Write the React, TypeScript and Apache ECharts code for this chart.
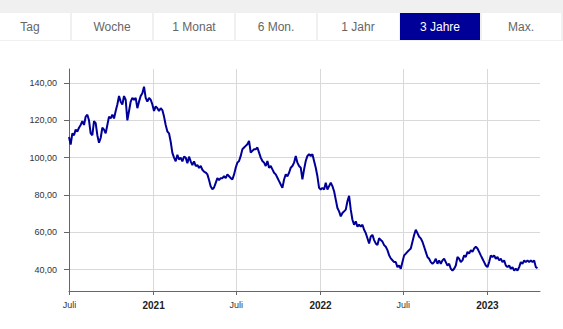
import React, { useEffect, useRef } from "react";
import * as echarts from "echarts";

// ---- data ----
const tabLabels = ["Tag", "Woche", "1 Monat", "6 Mon.", "1 Jahr", "3 Jahre", "Max."];
const activeTab = "3 Jahre";

const yTickValues = [40, 60, 80, 100, 120, 140];
const xTickDates = ["2020-07-01", "2021-01-01", "2021-07-01", "2022-01-01", "2022-07-01", "2023-01-01"];

const axisStartDate = "2020-06-30";
const axisEndDate = "2023-04-26";
const firstSampleDate = "2020-06-30";
const sampleStepDays = 3.646;

// price samples (EUR)
const pricesA = [
  111, 107, 113, 112, 115, 114, 116, 117.5, 119.5, 117.5, 122, 123, 120, 113, 112, 119.5, 118.5, 112, 108, 110.5,
  116, 115, 113, 117.5, 122, 121, 123, 121, 125, 128.5, 133, 130, 128.5, 133, 131, 120, 125, 130, 132, 131,
  132, 126.5, 130, 133, 134.5, 138, 132, 130, 132, 131, 128.5, 125, 127.5, 126.5, 125, 126.5, 125.5, 122, 117.5, 114,
  113, 108.5, 102.5, 100, 98, 101.5, 99, 100, 98, 100.5, 100, 97, 100.5, 98, 96, 98, 95.5, 96, 94.5, 95.5,
  93.5, 92.5, 92, 91, 88, 84.5, 83, 84, 86.5, 89, 88, 89, 89, 90, 89, 91, 90, 89,
];
const pricesB = [
  88.3, 91, 94.6, 97.3, 98.2, 100.9, 104.5, 105.4, 106.3, 107.2, 109, 102.7, 103.6, 104.5, 104.5, 105.4, 102.7, 100, 98.2, 97.3,
  95.5, 98.2, 94.6, 95.5, 93.7, 91.9, 91, 89.2, 87.4, 85.6, 83.8, 88.3, 91, 90, 91.9, 94.6, 95.5, 97.3, 100.9, 97.3,
  95.5, 94.6, 88.3, 93.7, 98.2, 100.9, 101.8, 100.9, 101.8, 98.2, 94.6, 90, 83.8, 82.9, 83.8, 82.9, 86.5, 82.9, 84.7, 86.5,
  84.7, 82, 77.5, 73, 71.2, 68.5, 70.3, 71.2, 72.1, 76.6, 79.5, 72.1, 66.7, 64, 65.8, 63, 64, 63, 64, 61.3,
  59.5, 56.8, 54, 57.7, 58.6, 55.8, 54, 53.1, 56.8, 55.8, 55, 53.1, 52.2, 50.4, 47.7, 46, 45, 44,
];
const pricesC = [
  44, 41.3, 42.2, 40.4, 44, 47.6, 48.5, 49.5, 50.4, 51.3, 54.9, 58.5, 61.3, 59.5, 57.6, 56.7, 54.9, 52.2, 49.5, 46.7,
  45.8, 44, 43.1, 44, 45.8, 43.1, 44.9, 43.1, 44.9, 45.8, 44, 42.2, 43.1, 40.4, 39.5, 40.4, 42.2, 46.7, 45.8, 44,
  44.9, 47.6, 46.7, 49.5, 48.5, 50.4, 49.5, 51.3, 52.2, 51.3, 49.5, 47.6, 45.8, 44, 42.2, 41.3, 44, 47.6, 46.7, 47.6,
  45.8, 46.7, 44.9, 45.8, 44, 44.9, 42.2, 41.3, 42.2, 40.4, 41.3, 39.5, 40.4, 39.5, 41.3, 44, 43.1, 44.9, 44, 44.9,
  44, 44.9, 44, 44.9, 41.3, 40.7,
];

// ---- helpers ----
function parseLocal(s: string): number {
  const [y, m, d] = s.split("-").map(Number);
  return new Date(y, m - 1, d).getTime();
}

const DAY = 86400000;

export default function App() {
  const ref = useRef<HTMLDivElement>(null);

  useEffect(() => {
    if (!ref.current) return;
    const chart = echarts.init(ref.current, undefined, { renderer: "svg" });

    const prices = [...pricesA, ...pricesB, ...pricesC];
    const t0 = parseLocal(firstSampleDate);
    const data = prices.map((v, i) => [t0 + i * sampleStepDays * DAY, v]);
    const xTicks = xTickDates.map(parseLocal);

    const tabX = [0, 72, 154, 236, 318, 400, 482];
    const tabW = [70, 80, 80, 80, 81, 80, 79];
    const tabTextX = [30, 112, 194, 276, 358, 440, 521];

    const graphic: any[] = [
      { type: "rect", shape: { x: 0, y: 0, width: 563, height: 41 }, style: { fill: "#f0f0f0" }, silent: true },
    ];
    tabLabels.forEach((lab, i) => {
      const active = lab === activeTab;
      graphic.push({
        type: "rect",
        shape: { x: tabX[i], y: 13, width: tabW[i], height: 27 },
        style: { fill: active ? "#000099" : "#ffffff" },
        silent: true,
      });
      graphic.push({
        type: "text",
        x: tabTextX[i],
        y: 27,
        style: {
          text: lab,
          fill: active ? "#ffffff" : "#666666",
          font: "12px Arial, 'Liberation Sans', sans-serif",
          textAlign: "center",
          textVerticalAlign: "middle",
        },
        silent: true,
      });
    });

    const axisColor = "#666666";
    const gridColor = "#d9d9d9";

    chart.setOption({
      animation: false,
      backgroundColor: "#ffffff",
      textStyle: { fontFamily: "Arial, 'Liberation Sans', sans-serif" },
      grid: { left: 69, right: 23, top: 69, bottom: 38, containLabel: false, outerBoundsMode: "none" },
      xAxis: {
        type: "value",
        min: parseLocal(axisStartDate),
        max: parseLocal(axisEndDate),
        axisLine: { show: true, onZero: false, lineStyle: { color: axisColor, width: 1 } },
        axisTick: { show: true, length: 4, customValues: xTicks, lineStyle: { color: axisColor } },
        axisLabel: {
          customValues: xTicks,
          margin: 9,
          color: "#333333",
          fontSize: 9,
          formatter: (val: number) => {
            const d = new Date(val);
            return d.getMonth() === 6 ? "Juli" : "{y|" + d.getFullYear() + "}";
          },
          rich: { y: { fontWeight: "bold", fontSize: 10, color: "#222222" } },
        },
        splitLine: { show: true, lineStyle: { color: gridColor, width: 1 } },
      },
      yAxis: {
        type: "value",
        min: 28.5,
        max: 147.5,
        axisLine: { show: true, lineStyle: { color: axisColor, width: 1 } },
        axisTick: { show: true, length: 5, customValues: yTickValues, lineStyle: { color: axisColor } },
        axisLabel: {
          customValues: yTickValues,
          margin: 12,
          color: "#333333",
          fontSize: 9,
          formatter: (v: number) => v.toFixed(2).replace(".", ","),
        },
        splitLine: { show: true, lineStyle: { color: gridColor, width: 1 } },
      },
      series: [
        {
          type: "line",
          data,
          symbol: "none",
          showSymbol: false,
          lineStyle: { color: "#000099", width: 2 },
          itemStyle: { color: "#000099" },
        },
      ],
      graphic,
    });

    return () => chart.dispose();
  }, []);

  return (
    <div
      ref={ref}
      style={{ position: "fixed", left: 0, top: 0, width: 563, height: 329 }}
    />
  );
}
